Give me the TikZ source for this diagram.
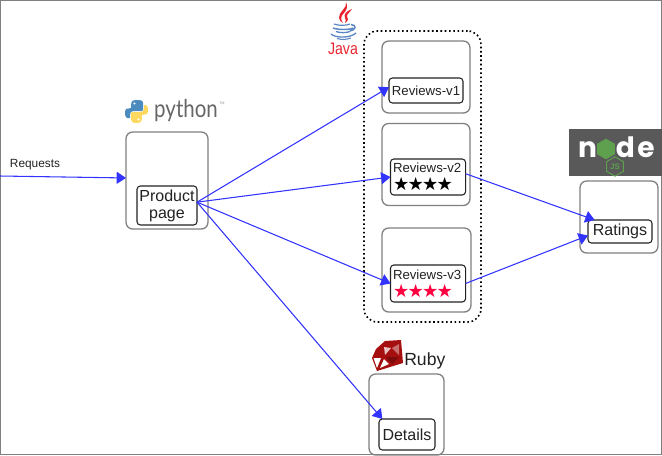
\documentclass[tikz,border=0pt]{standalone}
\usepackage{fontspec}
\setmainfont{Liberation Sans}
\newfontfamily\starfont{DejaVu Sans}
\newfontfamily\logofont{Poppins}
\newfontfamily\pyfont{Lato}
\usetikzlibrary{arrows.meta,shapes.geometric,positioning}
\definecolor{flowblue}{HTML}{3333FF}
\definecolor{framegray}{HTML}{808080}
\definecolor{inkdark}{HTML}{222222}
\definecolor{starred}{HTML}{FF0040}
\definecolor{nodebg}{HTML}{595959}
\definecolor{nodegreen}{HTML}{5FA04E}
\definecolor{javared}{HTML}{E8252F}
\definecolor{javablue}{HTML}{5B86C4}
\definecolor{rubyred}{HTML}{A50F0F}
\definecolor{pyblue}{HTML}{4B8BBE}
\definecolor{pyyellow}{HTML}{FFD95F}
\newcommand{\starrow}{{\starfont\fontsize{13.6pt}{13.6pt}\selectfont ★\hspace{-1.3pt}★\hspace{-1.3pt}★\hspace{-1.3pt}★}}
\tikzset{
  boxsize/.style 2 args={minimum width=#1*0.75pt,minimum height=#2*0.75pt},
  outerbox/.style={draw=framegray,line width=1pt,rounded corners=5pt,inner sep=0pt,outer sep=0pt},
  innerbox/.style={draw=inkdark,fill=white,line width=.8pt,rounded corners=2.5pt,inner sep=0pt,outer sep=0pt,align=center,text=inkdark},
  starbox/.style={innerbox,align=left,text width=70*0.75pt,inner xsep=1.9pt,font=\fontsize{9.9pt}{12pt}\selectfont},
  flow/.style={draw=flowblue,line width=.8pt,-{Triangle[length=7pt,width=9pt,fill=flowblue]}},
  smalltxt/.style={font=\fontsize{9.9pt}{11.5pt}\selectfont},
  bigtxt/.style={font=\fontsize{12pt}{12.6pt}\selectfont}
}
\begin{document}
\begin{tikzpicture}[x=0.75pt,y=-0.75pt]
\useasboundingbox (0,0) rectangle (662,455);
\draw[framegray,line width=1pt] (0.5,0.5) rectangle (661.5,454.5);

% containers
\node[outerbox,boxsize={82}{97}] (prodouter) at (167,180.5) {};
\node[outerbox,boxsize={88}{72}] (r1outer) at (426,77) {};
\node[outerbox,boxsize={88}{82}] (r2outer) at (426,164.5) {};
\node[outerbox,boxsize={89}{84}] (r3outer) at (426.5,270) {};
\node[outerbox,boxsize={78}{72}] (rateouter) at (619,217) {};
\node[outerbox,boxsize={75}{81}] (detouter) at (406.5,414.5) {};
\node[draw=black,line width=1.2pt,dotted,rounded corners=10pt,inner sep=0pt,outer sep=0pt,boxsize={117}{291}] (javagroup) at (422.5,176.5) {};

% services
\node[innerbox,bigtxt,boxsize={60}{39}] (prod) at (167,205.5) {Product\\page};
\node[innerbox,smalltxt,boxsize={74}{25}] (r1) at (426,90.5) {Reviews-v1};
\node[starbox,boxsize={75}{36}] (r2) at (428,177) {Reviews-v2\\[1.6pt]\color{black}\starrow};
\node[starbox,boxsize={74}{37}] (r3) at (428,283.5) {Reviews-v3\\[1.6pt]\color{starred}\starrow};
\node[innerbox,bigtxt,boxsize={64}{23}] (rate) at (620,231.5) {Ratings};
\node[innerbox,bigtxt,boxsize={56}{31}] (det) at (407,434.5) {Details};
\node[font=\fontsize{8.9pt}{10pt}\selectfont,text=inkdark,inner sep=0pt] (reqlabel) at (35,165) {Requests};
\coordinate (reqstart) at (0,176);

% connectors
\draw[flow] (reqstart) -- ([yshift=1.9pt]prodouter.west);
\draw[flow] ([yshift=2.5pt]prod.east) -- ([yshift=2.5pt]r1.west);
\draw[flow] ([yshift=2.5pt]prod.east) -- (r2.west);
\draw[flow] ([yshift=2.5pt]prod.east) -- (r3.west);
\draw[flow] ([yshift=2.5pt]prod.east) -- ([xshift=2.5pt]det.north west);
\draw[flow] ([yshift=2.5pt]r2.east) -- ([xshift=5pt]rate.north west);
\draw[flow] (r3.east) -- ([yshift=-3pt]rate.west);

% python logo
\fill[pyblue] (136,100) .. controls (131,100) and (131,103) .. (131,108) -- (126,109)
  .. controls (124,112) and (125,117) .. (127,118) -- (130,118) -- (130,114)
  .. controls (130,112) and (132,111) .. (134,111) -- (142,111)
  .. controls (144,111) and (143,108) .. (143,106) -- (143,103)
  .. controls (143,100) and (140,100) .. (136,100) -- cycle;
\fill[white] (134.5,103.5) circle (1.2);
\fill[pyyellow] (137,123) .. controls (142,123) and (142,120) .. (142,115) -- (147,114)
  .. controls (149,111) and (148,106) .. (146,105) -- (144,105) -- (144,109)
  .. controls (144,111) and (142,112) .. (140,112) -- (132,112)
  .. controls (130,112) and (131,115) .. (131,117) -- (131,120)
  .. controls (131,123) and (134,123) .. (137,123) -- cycle;
\fill[white] (138.5,119.5) circle (1.2);
\node[font=\pyfont\fontsize{18.5pt}{20pt}\selectfont,text=black!60,inner sep=0pt,anchor=base west,xscale=.83] (pylabel) at (154,117.5) {python};
\node[font=\fontsize{2.6pt}{3pt}\selectfont,text=black!45,inner sep=0pt] (pytm) at (222,103) {TM};

% java logo
\fill[javared] (346,2) .. controls (348,8) and (338,12) .. (339,18) .. controls (339,20) and (341,22) .. (343,23)
  .. controls (340,19) and (341,16) .. (344,13) .. controls (347,10) and (348,6) .. (346,2) -- cycle;
\fill[javared] (352,9) .. controls (347,11) and (343,14) .. (345,18) .. controls (346,19) and (346,21) .. (345,23)
  .. controls (350,20) and (347,18) .. (347,16) .. controls (347,14) and (350,12) .. (352,9) -- cycle;
\draw[javablue,line width=.9pt] (334,24) .. controls (339,26) and (347,25.5) .. (350,24);
\draw[javablue,line width=1.1pt] (333,28) .. controls (338,30) and (350,30) .. (353,28) (351,24.5) .. controls (357,25) and (356,30) .. (350,31);
\draw[javablue,line width=1pt] (336,31.5) .. controls (340,33) and (346,33) .. (350,31.5);
\draw[javablue,line width=1pt] (331,34) .. controls (335,38) and (350,38.5) .. (356,33);
\draw[javablue,line width=.8pt] (337,38.5) .. controls (342,40) and (347,39.5) .. (351,38);
\node[text=javared,font=\fontsize{12.5pt}{13pt}\selectfont,inner sep=0pt,xscale=.85] (javalabel) at (343,49) {Java};

% ruby logo
\fill[rubyred] (385,341) -- (401,340) -- (403,363) -- (377,371) -- (372,358) -- (376,349) -- cycle;
\fill[white] (373.5,358) -- (381,358) -- (377,368) -- cycle;
\fill[white] (384,359) -- (389,364) -- (380,368) -- cycle;
\fill[white!75!rubyred] (384,347) -- (391,348) -- (385,355) -- cycle;
\fill[white!40!rubyred] (392,348) -- (399,344) -- (399,355) -- cycle;
\fill[black!25!rubyred] (386,357) -- (399,357) -- (392,364) -- cycle;
\node[font=\fontsize{13.2pt}{15pt}\selectfont,text=inkdark,inner sep=0pt,anchor=base west] (rubylabel) at (404,365) {Ruby};

% node logo
\fill[nodebg] (569,128.5) rectangle (662,175.5);
\node[font=\logofont\bfseries\fontsize{21pt}{21pt}\selectfont,text=white,inner sep=0pt,anchor=base] (nodeN) at (587.5,157.5) {n};
\node[font=\logofont\bfseries\fontsize{21pt}{21pt}\selectfont,text=white,inner sep=0pt,anchor=base] (nodeD) at (625.5,157.5) {d};
\node[font=\logofont\bfseries\fontsize{21pt}{21pt}\selectfont,text=white,inner sep=0pt,anchor=base] (nodeE) at (646,157.5) {e};
\node[regular polygon,regular polygon sides=6,rotate=30,fill=nodegreen,minimum size=15.5pt,inner sep=0pt] (nodeH) at (606,149) {};
\node[regular polygon,regular polygon sides=6,rotate=30,draw=nodegreen,line width=.7pt,minimum size=14.5pt,inner sep=0pt] (jsH) at (615,166.5) {};
\node[font=\bfseries\fontsize{6pt}{6pt}\selectfont,text=nodegreen,inner sep=0pt] (jsT) at (615,167) {JS};
\end{tikzpicture}
\end{document}
